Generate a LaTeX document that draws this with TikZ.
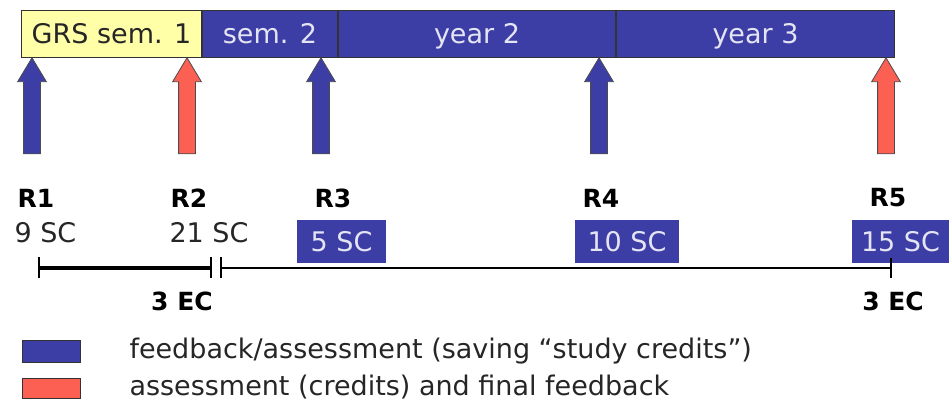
\documentclass[tikz,border=0pt]{standalone}
\usepackage{fontspec}
\setmainfont{DejaVu Sans}
\usepackage{tikz}
\usetikzlibrary{shapes.arrows}
\usetikzlibrary{positioning}

\definecolor{fbblue}{RGB}{60,62,166}
\definecolor{asred}{RGB}{252,96,82}
\definecolor{grsyellow}{RGB}{255,255,168}
\definecolor{boxtext}{RGB}{228,228,242}

\tikzset{
  reg/.style={font=\fontsize{27pt}{31pt}\selectfont},
  bld/.style={font=\fontsize{25pt}{30pt}\selectfont\bfseries},
  barbox/.style={reg, draw=black!80, line width=1pt, fill=fbblue, text=boxtext,
    minimum height=47pt, inner sep=0pt, text height=19pt, text depth=0pt},
  fbarrow/.style={single arrow, draw=black!70, line width=0.8pt, fill=#1,
    inner xsep=0pt, inner ysep=8pt, minimum height=96pt,
    single arrow head extend=6pt, single arrow tip angle=62,
    rotate=90, anchor=tip},
  scbox/.style={reg, fill=fbblue, text=boxtext, minimum height=43pt, inner sep=0pt,
    text height=19pt, text depth=0pt},
  legbox/.style={draw=black!80, line width=0.8pt, minimum width=58pt, inner sep=0pt},
  tick/.style={line width=1.5pt}
}

\begin{document}
\begin{tikzpicture}[x=1pt,y=-1pt]

\useasboundingbox (0,0) rectangle (949,401);

%%% semesters and years

\node[barbox, fill=grsyellow, text=black!85, minimum width=180pt, anchor=north west]
  (sem1) at (21,10) {GRS sem. 1};
\node[barbox, minimum width=135pt, right=0pt of sem1] (sem2) {sem. 2};
\node[barbox, minimum width=277pt, right=0pt of sem2] (year2) {year 2};
\node[barbox, minimum width=278pt, right=0pt of year2] (year3) {year 3};

%%% moments R1 ... R5

\node[fbarrow=fbblue] (a1) at (32,57) {};
\node[fbarrow=asred]  (a2) at (187,57) {};
\node[fbarrow=fbblue] (a3) at (321,57) {};
\node[fbarrow=fbblue] (a4) at (599,57) {};
\node[fbarrow=asred]  (a5) at (886,57) {};

\node[bld, anchor=west] (r1) at (14,198) {R1};
\node[bld, anchor=west] (r2) at (167,198) {R2};
\node[bld, anchor=west] (r3) at (311,198) {R3};
\node[bld, anchor=west] (r4) at (579,198) {R4};
\node[bld, anchor=west] (r5) at (866,198) {R5};

% study credits
\node[reg, anchor=west, text=black!85] (sc1) at (11,233) {9 SC};
\node[reg, anchor=west, text=black!85] (sc2) at (166,233) {21 SC};
\node[scbox, minimum width=89pt]  (sc3) at (341.5,241.5) {5 SC};
\node[scbox, minimum width=104pt] (sc4) at (627,241.5) {10 SC};
\node[scbox, minimum width=97pt]  (sc5) at (900.5,241.5) {15 SC};

%%% time line

\coordinate (t1) at (39,268);
\coordinate (t2) at (211,268);
\coordinate (t3) at (221,268);
\coordinate (t4) at (891,268);

\draw[line width=4pt] (t1) -- (t2);
\draw[line width=2.5pt] (t3) -- (t4);
\foreach \t in {t1,t2,t3} \draw[tick] ([yshift=11pt]\t) -- ([yshift=-10pt]\t);
\draw[tick] ([yshift=10pt]t4) -- ([yshift=-10pt]t4);

\node[bld] (ec1) at (182,301) {3 EC};
\node[bld] (ec2) at (893,301) {3 EC};

%%% legend

\node[legbox, fill=fbblue, minimum height=22pt] (lblue) at (51,351) {};
\node[legbox, fill=asred, minimum height=20pt] (lred) at (51,388) {};
\node[reg, anchor=west, text=black!85] (tblue) at (126,351)
  {feedback/assessment (saving “study credits”)};
\node[reg, anchor=west, text=black!85] (tred) at (126,387)
  {assessment (credits) and final feedback};

\end{tikzpicture}
\end{document}
